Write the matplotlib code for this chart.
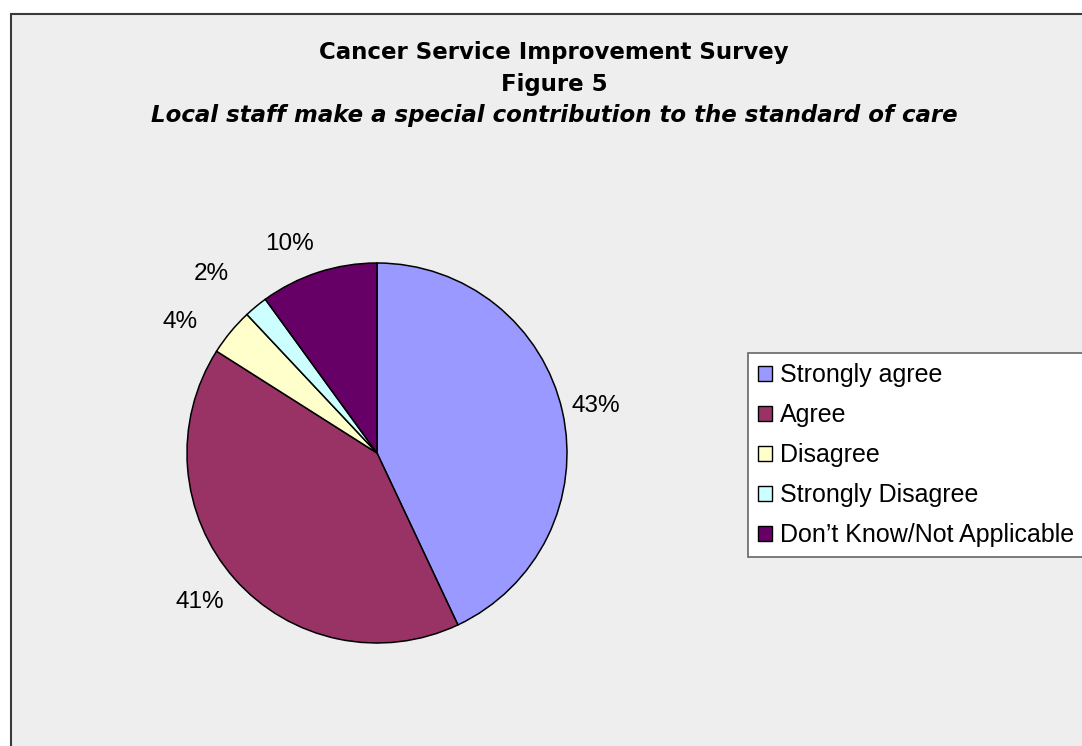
import numpy as np
import matplotlib
matplotlib.use("Agg")
import matplotlib.pyplot as plt
from matplotlib.patches import Rectangle, Patch

plt.rcParams['font.family'] = ['Liberation Sans', 'DejaVu Sans']

# survey responses (percent of respondents)
categories = ['Strongly agree', 'Agree', 'Disagree', 'Strongly Disagree',
              'Don\u2019t Know/Not Applicable']
shares = [43, 41, 4, 2, 10]
colors = ['#9999ff', '#993366', '#ffffcc', '#ccffff', '#660066']

title = 'Cancer Service Improvement Survey'
fig_label = 'Figure 5'
subtitle = 'Local staff make a special contribution to the standard of care'

W, H = 1082, 746
fig = plt.figure(figsize=(W / 100, H / 100), dpi=100)
fig.patch.set_facecolor('white')

# grey chart area with dark border, running off the right/bottom edge
fig.add_artist(Rectangle((11 / W, -0.1), 1.2, 1 - 14 / H + 0.1,
                         transform=fig.transFigure, facecolor='#eeeeee',
                         edgecolor='#3a3a3a', linewidth=1.5, zorder=-1))

# titles (wide face to get the loose spacing of the heading)
cx = 554 / W
tfont = dict(family='DejaVu Sans', fontsize=16.5, fontweight='bold',
             ha='center', va='baseline')
fig.text(cx, 1 - 59 / H, title, **tfont)
fig.text(cx, 1 - 91 / H, fig_label, **tfont)
fig.text(cx, 1 - 122 / H, subtitle, fontstyle='italic', **tfont)

# pie axes: centre (377, 453) px, radius 190 px
r_px = 190
lim = 1.3
side = 2 * lim * r_px
ax = fig.add_axes([(377 - side / 2) / W, (H - 453 - side / 2) / H,
                   side / W, side / H])
wedges, _ = ax.pie(shares, colors=colors, startangle=90, counterclock=False,
                   wedgeprops=dict(edgecolor='black', linewidth=1.1))
ax.set_xlim(-lim, lim)
ax.set_ylim(-lim, lim)
ax.set_aspect('equal')
ax.axis('off')

# percentage labels outside each slice (small slices pushed apart a little)
label_r = [1.18, 1.22, 1.245, 1.285, 1.195]
label_nudge = [-0.5, -1.3, 6.0, 3.2, 4.8]
for w, v, lr, dn in zip(wedges, shares, label_r, label_nudge):
    mid = np.deg2rad((w.theta1 + w.theta2) / 2 + dn)
    ax.text(lr * np.cos(mid), lr * np.sin(mid), f'{v}%',
            ha='center', va='center', fontsize=17.5)

# legend
handles = [Patch(facecolor=c, edgecolor='black', linewidth=1.0) for c in colors]
leg = fig.legend(handles, categories, loc='upper left',
                 bbox_to_anchor=(748 / W, 1 - 353 / H),
                 fontsize=18, frameon=True, fancybox=False, framealpha=1,
                 edgecolor='#666666', borderpad=0.4, handlelength=0.56,
                 handleheight=0.56, handletextpad=0.32, labelspacing=0.64,
                 borderaxespad=0)
leg.get_frame().set_linewidth(1.2)

fig.savefig('out.png', dpi=100)
